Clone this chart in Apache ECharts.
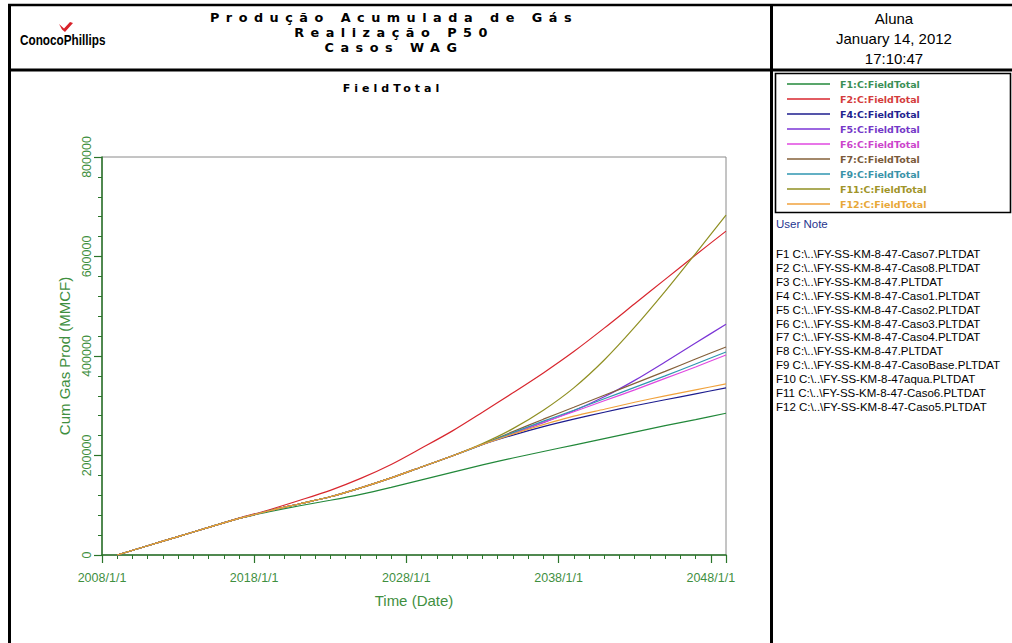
<!DOCTYPE html>
<html>
<head>
<meta charset="utf-8">
<script src="https://cdn.jsdelivr.net/npm/echarts@6/dist/echarts.min.js"></script>
<style>
  html, body { margin: 0; padding: 0; background: #fff; }
  #chart { width: 1012px; height: 643px; }
  /* spaced-out bold captions (header and plot title) */
  #chart text[style*="DejaVu"][style*="12.8px"] { letter-spacing: 6.5px; }
  #chart text[style*="DejaVu"][style*="11px"] { letter-spacing: 4px; }
</style>
</head>
<body>
<div id="chart"></div>
<script>
// Sample dates (year) for every case
const years = [2009, 2011, 2013, 2015, 2017, 2019, 2021, 2023, 2025, 2027, 2029,
               2031, 2033, 2035, 2037, 2039, 2041, 2043, 2045, 2047, 2049];

// Cumulative gas production, MMCF
const f1  = [0, 18500, 37000, 55500, 73500, 87000, 99000, 110000, 122000, 136000, 151000,
             166000, 181000, 195000, 208000, 221000, 234000, 247000, 260000, 272000, 285000];
const f2  = [0, 18500, 37000, 55500, 74000, 91000, 110000, 130000, 154000, 182000, 215000,
             249000, 287000, 326000, 366000, 409000, 456000, 505000, 554000, 603000, 651000];
const f4  = [0, 18500, 37000, 55500, 73500, 89000, 103000, 117000, 135000, 155000, 177000,
             199000, 222000, 241000, 258000, 273000, 287000, 300000, 312000, 324000, 336000];
const f5  = [0, 18500, 37000, 55500, 73500, 89000, 103000, 117000, 135000, 155000, 177000,
             199000, 222000, 244000, 266000, 290000, 318000, 351000, 388000, 426000, 464000];
const f6  = [0, 18500, 37000, 55500, 73500, 89000, 103000, 117000, 135000, 155000, 177000,
             199000, 222000, 245000, 267000, 288000, 310000, 332000, 355000, 378000, 402000];
const f7  = [0, 18500, 37000, 55500, 73500, 89000, 103000, 117000, 135000, 155000, 177000,
             199000, 222000, 248000, 273000, 297000, 321000, 345000, 369000, 394000, 418000];
const f9  = [0, 18500, 37000, 55500, 73500, 89000, 103000, 117000, 135000, 155000, 177000,
             199000, 222000, 246000, 269000, 291000, 314000, 337000, 360000, 384000, 408000];
const f11 = [0, 18500, 37000, 55500, 73500, 89000, 103000, 117000, 135000, 155000, 177000,
             199000, 224000, 254000, 291000, 336000, 392000, 458000, 530000, 606000, 683000];
const f12 = [0, 18500, 37000, 55500, 73500, 89000, 103000, 117000, 135000, 155000, 177000,
             199000, 222000, 243000, 262000, 279000, 293000, 307000, 320000, 332000, 344000];

const seriesNames = ['F1:C:FieldTotal', 'F2:C:FieldTotal', 'F4:C:FieldTotal', 'F5:C:FieldTotal',
                     'F6:C:FieldTotal', 'F7:C:FieldTotal', 'F9:C:FieldTotal', 'F11:C:FieldTotal',
                     'F12:C:FieldTotal'];
const seriesValues = [f1, f2, f4, f5, f6, f7, f9, f11, f12];
const lineColors = ['#22883a', '#d8262e', '#1c1c8e', '#7b35d6', '#e048e0', '#85603a', '#2f96b0', '#8f8f22', '#f0a23c'];
const legendColors = ['#3a8f55', '#d43c3c', '#23238f', '#7438c8', '#cc44cc', '#7a5a3a', '#3a93a8', '#a09428', '#e8a838'];

const yTicks = { min: 0, max: 800000, step: 200000 };
const xTicks = { min: 2008, max: 2049, step: 10 };

const fileNotes = [
  'F1 C:\\..\\FY-SS-KM-8-47-Caso7.PLTDAT',
  'F2 C:\\..\\FY-SS-KM-8-47-Caso8.PLTDAT',
  'F3 C:\\..\\FY-SS-KM-8-47.PLTDAT',
  'F4 C:\\..\\FY-SS-KM-8-47-Caso1.PLTDAT',
  'F5 C:\\..\\FY-SS-KM-8-47-Caso2.PLTDAT',
  'F6 C:\\..\\FY-SS-KM-8-47-Caso3.PLTDAT',
  'F7 C:\\..\\FY-SS-KM-8-47-Caso4.PLTDAT',
  'F8 C:\\..\\FY-SS-KM-8-47.PLTDAT',
  'F9 C:\\..\\FY-SS-KM-8-47-CasoBase.PLTDAT',
  'F10 C:\\..\\FY-SS-KM-8-47aqua.PLTDAT',
  'F11 C:\\..\\FY-SS-KM-8-47-Caso6.PLTDAT',
  'F12 C:\\..\\FY-SS-KM-8-47-Caso5.PLTDAT'
];

const titleLines = ['Produção Acumulada de Gás', 'Realização P50', 'Casos WAG'];
const stampLines = ['Aluna', 'January 14, 2012', '17:10:47'];

const AXIS_GREEN = '#2a752a';
const LABEL_GREEN = '#3f8f3f';

const chart = echarts.init(document.getElementById('chart'), null, { renderer: 'svg' });

const series = seriesValues.map((vals, i) => ({
  name: seriesNames[i],
  type: 'line',
  symbol: 'none',
  smooth: 0.3,
  color: lineColors[i],
  lineStyle: { width: 1.2, color: lineColors[i] },
  data: years.map((yr, k) => [yr, vals[k]])
}));

function txt(text, x, y, opt) {
  return {
    type: 'text', silent: true,
    style: Object.assign({
      text, x, y, fill: '#000',
      fontFamily: 'Arial', fontSize: 12,
      align: 'center', verticalAlign: 'middle',
      textAlign: 'center', textVerticalAlign: 'middle'
    }, opt || {})
  };
}
function seg(x1, y1, x2, y2, w, c) {
  return { type: 'line', silent: true, shape: { x1, y1, x2, y2 },
           style: { stroke: c || '#000', lineWidth: w } };
}

const logoText = txt('ConocoPhillips', 0, 0, { fontFamily: 'Liberation Sans', fontWeight: 'bold', fontSize: 14,
                     align: 'left', textAlign: 'left' });
logoText.x = 20; logoText.y = 40; logoText.scaleX = 0.84;

const graphics = [
  // frame
  seg(8, 5, 1012, 5, 2.5),
  seg(8, 70, 1012, 70, 3),
  seg(9.5, 4, 9.5, 643, 3),
  seg(771.5, 4, 771.5, 643, 3),
  { type: 'rect', silent: true, shape: { x: 775.5, y: 73.5, width: 235, height: 139 },
    style: { fill: 'none', stroke: '#000', lineWidth: 1.6 } },
  // logo
  logoText,
  { type: 'polygon', silent: true,
    shape: { points: [[59, 24], [64, 28.5], [70, 22], [73, 23], [65, 32], [62, 29.5]] },
    style: { fill: '#d8222a' } },
  // report title (three centred lines)
  txt(titleLines.join('\n'), 394, 32, { fontFamily: 'DejaVu Sans', fontWeight: 'bold', fontSize: 12.8, lineHeight: 15 }),
  // plot title
  txt('FieldTotal', 393, 88, { fontFamily: 'DejaVu Sans', fontWeight: 'bold', fontSize: 11 }),
  // date stamp
  txt(stampLines.join('\n'), 894, 38, { fontSize: 15, lineHeight: 20 }),
  // user note
  txt('User Note', 776, 224, { fontSize: 11.5, fill: '#26358f', align: 'left', textAlign: 'left' }),
  txt(fileNotes.join('\n'), 776, 330.5, { fontSize: 11.5, lineHeight: 13.9, align: 'left', textAlign: 'left' })
];

chart.setOption({
  animation: false,
  backgroundColor: '#fff',
  grid: { left: 102, top: 157, right: 286, bottom: 88, show: true, borderColor: '#8a8a8a', borderWidth: 1 },
  legend: {
    orient: 'vertical', left: 782, top: 74,
    itemWidth: 43, itemHeight: 14, itemGap: 5,
    icon: 'path://M0,0H43V1.3H0Z', symbolKeepAspect: true,
    selectedMode: false,
    textStyle: { fontFamily: 'DejaVu Sans', fontWeight: 'bold', fontSize: 9.5, padding: [0, 0, 0, 5] },
    data: seriesNames.map((n, i) => ({ name: n, textStyle: { color: legendColors[i] } }))
  },
  xAxis: [{
    type: 'value', min: xTicks.min, max: xTicks.max, interval: xTicks.step,
    axisLine: { lineStyle: { color: AXIS_GREEN, width: 1.5 } },
    axisTick: { length: 8, lineStyle: { color: AXIS_GREEN, width: 1.2 } },
    splitLine: { show: false },
    axisLabel: {
      color: LABEL_GREEN, fontFamily: 'Arial', fontSize: 12.5, margin: 16,
      formatter: v => ((v - xTicks.min) % xTicks.step === 0 ? v + '/1/1' : '')
    },
    name: 'Time (Date)', nameLocation: 'middle', nameGap: 38,
    nameTextStyle: { color: LABEL_GREEN, fontFamily: 'Arial', fontSize: 15 }
  }, {
    // yearly minor ticks along the date axis
    type: 'value', position: 'top', offset: -398,
    min: xTicks.min, max: xTicks.max, interval: 1,
    axisLine: { show: false },
    axisTick: { inside: true, length: 4, lineStyle: { color: AXIS_GREEN, width: 1 } },
    axisLabel: { show: false }, splitLine: { show: false }
  }],
  yAxis: {
    type: 'value', min: yTicks.min, max: yTicks.max, interval: yTicks.step,
    axisLine: { show: true, lineStyle: { color: AXIS_GREEN, width: 1.5 } },
    axisTick: { show: true, length: 8, lineStyle: { color: AXIS_GREEN, width: 1.2 } },
    minorTick: { show: true, splitNumber: 5, length: 4, lineStyle: { color: AXIS_GREEN, width: 1 } },
    splitLine: { show: false },
    axisLabel: { rotate: 90, color: LABEL_GREEN, fontFamily: 'Arial', fontSize: 12.5, margin: 9,
                 formatter: v => String(v) },
    name: 'Cum Gas Prod (MMCF)', nameLocation: 'middle', nameGap: 30, nameRotate: 90,
    nameTextStyle: { color: LABEL_GREEN, fontFamily: 'Arial', fontSize: 15 }
  },
  graphic: graphics,
  series: series
});
</script>
</body>
</html>
